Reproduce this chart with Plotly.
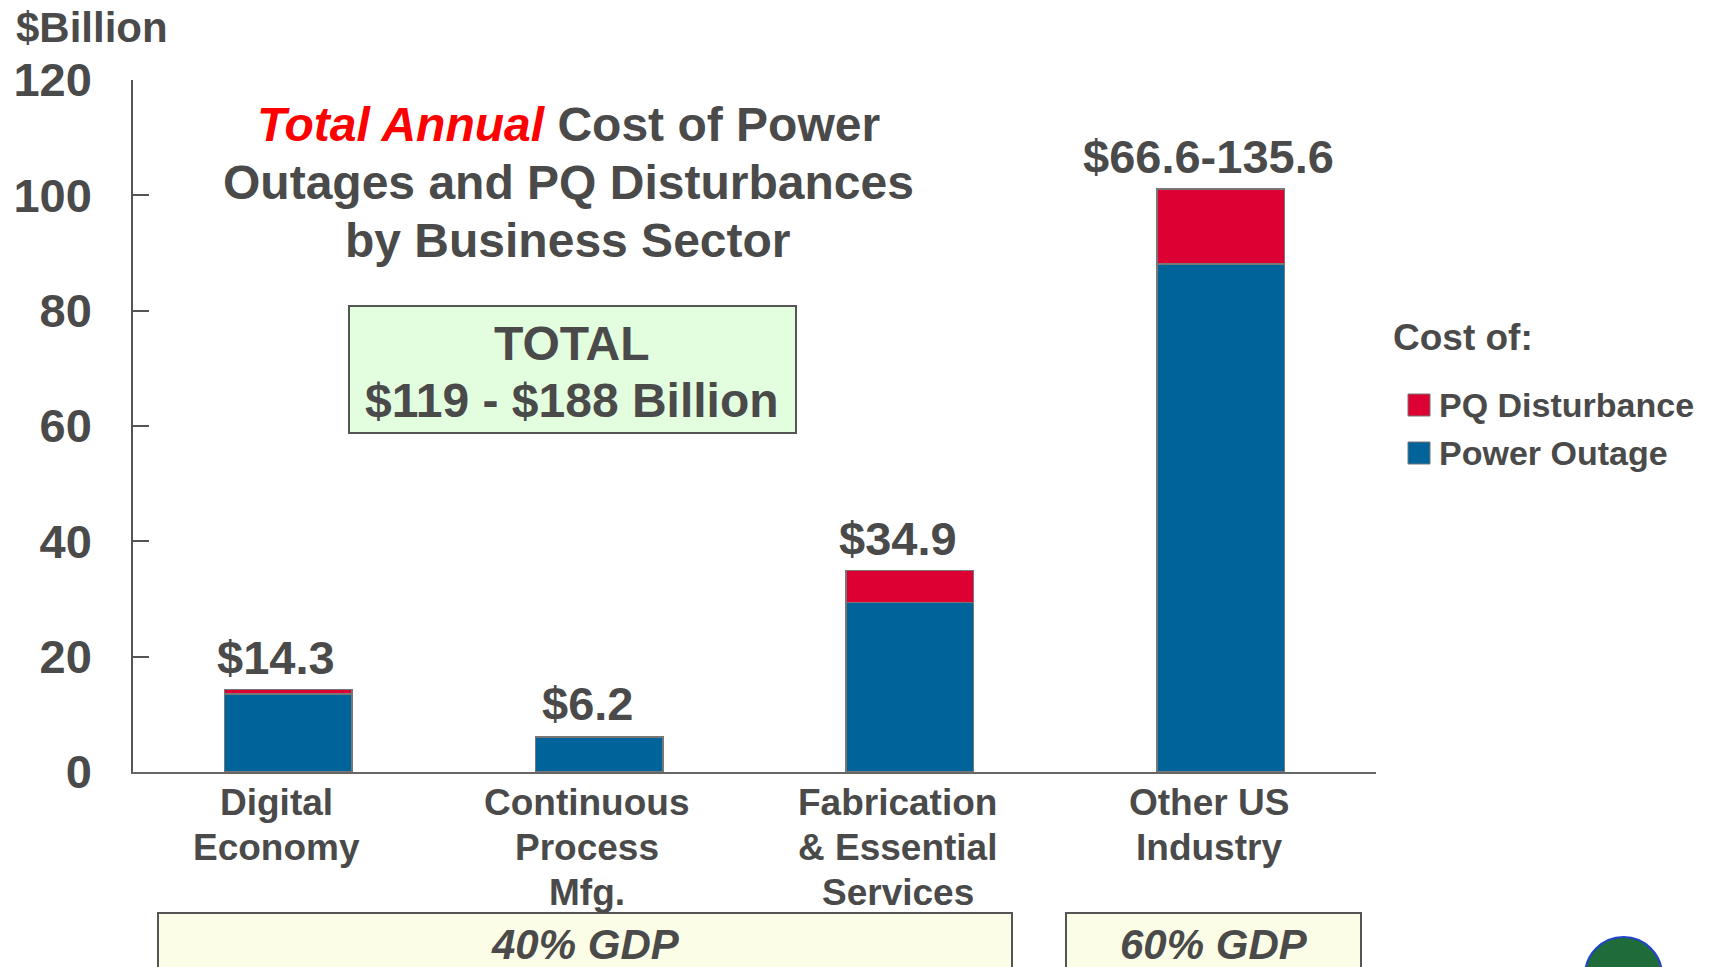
import plotly.graph_objects as go

categories = ["Digital<br>Economy", "Continuous<br>Process<br>Mfg.", "Fabrication<br>& Essential<br>Services", "Other US<br>Industry"]
power_outage = [13.5, 6.0, 29.4, 88.1]
pq_disturbance = [0.8, 0.2, 5.5, 13.0]
bar_labels = ["$14.3", "$6.2", "$34.9", "$66.6-135.6"]
y_ticks = [0, 20, 40, 60, 80, 100, 120]

BLUE = "#006399"
RED = "#DD0033"
TXT = "#4a4a4a"
FONT = "Liberation Sans"

# page body has an 8px margin: the figure starts at (8, 8) of the window
OFF = 8
W, H = 1709 - OFF, 967 - OFF
PL, PR, PT, PB = 133, 1376, 80, 772  # plot area in window pixels
PW, PH = PR - PL, PB - PT


def px(x):
    return (x - PL) / PW


def py(y):
    return (PB - y) / PH


fig = go.Figure()
fig.add_trace(go.Bar(x=categories, y=power_outage, name="Power Outage",
                     marker=dict(color=BLUE, line=dict(color="#777777", width=1.5)),
                     width=0.41, showlegend=False))
fig.add_trace(go.Bar(x=categories, y=pq_disturbance, name="PQ Disturbance",
                     marker=dict(color=RED, line=dict(color="#777777", width=1.5)),
                     width=0.41, showlegend=False))

bold = dict(family=FONT, color=TXT, weight="bold")

totals = [a + b for a, b in zip(power_outage, pq_disturbance)]
for c, t, lab in zip(categories, totals, bar_labels):
    fig.add_annotation(x=c, y=t, text=lab, showarrow=False, yanchor="bottom", yshift=4, xshift=-12,
                       font=dict(size=47, **bold))

# category labels, one annotation per line for tight line spacing
for c in categories:
    for i, line in enumerate(c.split("<br>")):
        fig.add_annotation(x=c, yref="paper", y=py(802 + 45 * i), text=line, showarrow=False,
                           xanchor="center", yanchor="middle", xshift=-12, font=dict(size=37, **bold))

# Title
title_lines = ["<i><span style='color:#FF0000'>Total Annual</span></i> Cost of Power",
               "Outages and PQ Disturbances", "by Business Sector"]
for i, line in enumerate(title_lines):
    fig.add_annotation(xref="paper", yref="paper", x=px(568), y=py(125 + 58 * i), text=line,
                       showarrow=False, xanchor="center", yanchor="middle",
                       font=dict(size=48, **bold))

# $Billion
fig.add_annotation(xref="paper", yref="paper", x=px(14), y=py(27), text="$Billion",
                   showarrow=False, xanchor="left", yanchor="middle", height=36,
                   font=dict(size=42, **bold))

# TOTAL box
fig.add_shape(type="rect", xref="paper", yref="paper", x0=px(349), x1=px(796), y0=py(306), y1=py(433),
              fillcolor="#E3FDDF", line=dict(color="#555555", width=2), layer="below")
for yc, line in [(343, "TOTAL"), (400, "$119 - $188 Billion")]:
    fig.add_annotation(xref="paper", yref="paper", x=px(572), y=py(yc), text=line, showarrow=False,
                       xanchor="center", yanchor="middle", font=dict(size=48, **bold))

# GDP boxes
for x0, x1, lab in [(158, 1012, "40% GDP"), (1066, 1361, "60% GDP")]:
    fig.add_shape(type="rect", xref="paper", yref="paper", x0=px(x0), x1=px(x1), y0=py(913), y1=py(990),
                  fillcolor="#FCFDE6", line=dict(color="#555555", width=2))
    fig.add_annotation(xref="paper", yref="paper", x=px((x0 + x1) / 2), y=py(944),
                       text="<i>" + lab + "</i>", showarrow=False, xanchor="center", yanchor="middle",
                       font=dict(size=42, **bold))

# Legend (manual)
fig.add_annotation(xref="paper", yref="paper", x=px(1391), y=py(338), text="Cost of:",
                   showarrow=False, xanchor="left", yanchor="middle",
                   font=dict(size=37, **bold))
for yc, col, lab in [(405, RED, "PQ Disturbance"), (453, BLUE, "Power Outage")]:
    fig.add_shape(type="rect", xref="paper", yref="paper", x0=px(1408), x1=px(1430),
                  y0=py(yc - 11), y1=py(yc + 11), fillcolor=col, line=dict(color="#777777", width=1))
    fig.add_annotation(xref="paper", yref="paper", x=px(1437), y=py(yc), text=lab,
                       showarrow=False, xanchor="left", yanchor="middle",
                       font=dict(size=34, **bold))

# corner logo (globe), partly visible at bottom right
fig.add_shape(type="circle", xref="paper", yref="paper", x0=px(1585), x1=px(1662), y0=py(937), y1=py(1014),
              fillcolor="#1F6B3A", line=dict(color="#2244CC", width=2))

fig.update_layout(
    width=W, height=H, barmode="stack",
    margin=dict(l=PL - OFF, r=W - (PR - OFF), t=PT - OFF, b=H - (PB - OFF), autoexpand=False),
    plot_bgcolor="white", paper_bgcolor="white",
    font=dict(family=FONT, color=TXT),
    xaxis=dict(type="category", range=[-0.5, 3.5], showline=True, linecolor="#666666", linewidth=1.5,
               showgrid=False, ticks="", showticklabels=False),
    yaxis=dict(range=[0, 120], tickvals=y_ticks, showline=True, linecolor="#555555", linewidth=1.5,
               showgrid=False, zeroline=False, ticks="inside", ticklen=16, tickwidth=1.5, tickcolor="#555555",
               tickfont=dict(family=FONT, size=47, color=TXT, weight="bold"), ticklabelstandoff=30),
)

fig.write_html("out.html")
